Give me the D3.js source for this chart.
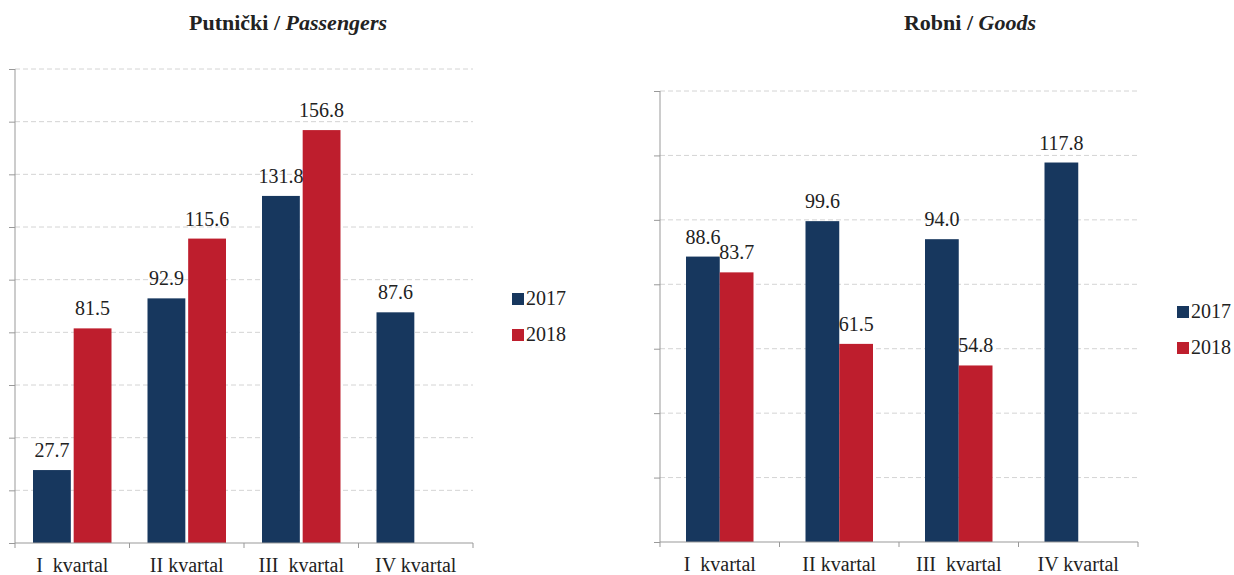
<!DOCTYPE html>
<html>
<head>
<meta charset="utf-8">
<script src="https://cdn.jsdelivr.net/npm/d3@7"></script>
<style>
  body { margin: 0; background: #fff; }
  svg text { font-family: "Liberation Serif", "Times New Roman", serif; fill: #222; }
</style>
</head>
<body>
<svg id="chart" width="1234" height="575"></svg>
<script>
// data
var categories = ["I  kvartal", "II kvartal", "III  kvartal", "IV kvartal"];
var seriesNames = ["2017", "2018"];
var passengers2017 = [27.7, 92.9, 131.8, 87.6];
var passengers2018 = [81.5, 115.6, 156.8, null];
var goods2017 = [88.6, 99.6, 94.0, 117.8];
var goods2018 = [83.7, 61.5, 54.8, null];

var colors = { "2017": "#17375e", "2018": "#be1e2d" };

var svg = d3.select("#chart");

function drawPanel(opt) {
    var g = svg.append("g");

    var x = d3.scaleBand()
        .domain(categories)
        .range([opt.left, opt.right])
        .padding(0);

    var xs = d3.scaleBand()
        .domain(seriesNames)
        .range([opt.groupPad, x.bandwidth() - opt.groupPad])
        .paddingInner(opt.barGap);

    var y = d3.scaleLinear()
        .domain([0, opt.max])
        .range([opt.bottom, opt.top]);

    var ticks = d3.range(0, opt.max + 1, opt.step);

    // grid
    g.selectAll(".grid")
        .data(ticks.slice(1))
        .enter()
        .append("line")
        .attr("x1", opt.left)
        .attr("x2", opt.right)
        .attr("y1", d => y(d))
        .attr("y2", d => y(d))
        .attr("stroke", "#d4d4d4")
        .attr("stroke-dasharray", "5,3");

    // y axis (no labels)
    var axisY = d3.axisLeft(y).tickValues(ticks).tickSize(6).tickFormat("");
    var ay = g.append("g")
        .attr("transform", "translate(" + opt.left + ",0)")
        .call(axisY);
    ay.select(".domain").attr("stroke", "#999").attr("d", "M0," + opt.bottom + "V" + opt.top);
    ay.selectAll(".tick line").attr("stroke", "#999");

    // bars
    var rows = categories.map((c, i) => ({ cat: c, vals: [
        { s: "2017", v: opt.data2017[i] },
        { s: "2018", v: opt.data2018[i] }
    ].filter(d => d.v != null) }));

    var grp = g.selectAll(".cat")
        .data(rows)
        .enter()
        .append("g")
        .attr("transform", d => "translate(" + x(d.cat) + ",0)");

    grp.selectAll("rect")
        .data(d => d.vals)
        .enter()
        .append("rect")
        .attr("x", d => xs(d.s))
        .attr("width", xs.bandwidth())
        .attr("y", d => y(d.v))
        .attr("height", d => opt.bottom - y(d.v))
        .attr("fill", d => colors[d.s]);

    grp.selectAll(".lbl")
        .data(d => d.vals)
        .enter()
        .append("text")
        .attr("x", d => xs(d.s) + xs.bandwidth() / 2)
        .attr("y", d => y(d.v) - 13)
        .attr("text-anchor", "middle")
        .style("font-size", "20px")
        .text(d => d.v.toFixed(1));

    // x axis
    var axisX = d3.axisBottom(x).tickSize(0).tickFormat(d => d);
    var ax = g.append("g")
        .attr("transform", "translate(0," + opt.bottom + ")")
        .call(axisX);
    ax.select(".domain").attr("stroke", "#999").attr("d", "M" + opt.left + ",0H" + opt.right);
    ax.selectAll(".tick text")
        .attr("dy", 0)
        .attr("y", 29)
        .style("font-size", "20px")
        .style("white-space", "pre")
        .attr("xml:space", "preserve");

    g.selectAll(".sep")
        .data(categories.map(c => x(c)).concat([opt.right]))
        .enter()
        .append("line")
        .attr("x1", d => d).attr("x2", d => d)
        .attr("y1", opt.bottom).attr("y2", opt.bottom + 5)
        .attr("stroke", "#999");

    // title
    var t = g.append("text")
        .attr("x", opt.titleX)
        .attr("y", opt.titleY)
        .attr("text-anchor", "middle")
        .style("font-size", "22px")
        .style("font-weight", "bold")
        .attr("xml:space", "preserve");
    t.append("tspan").text(opt.title1);
    t.append("tspan").style("font-style", "italic").text(opt.title2);

    // legend
    var lg = g.selectAll(".leg")
        .data(seriesNames)
        .enter()
        .append("g")
        .attr("transform", (d, i) => "translate(" + opt.legX + "," + (opt.legY + i * opt.legStep) + ")");
    lg.append("rect")
        .attr("x", 0).attr("y", -12)
        .attr("width", 12).attr("height", 12)
        .attr("fill", d => colors[d]);
    lg.append("text")
        .attr("x", 14)
        .attr("y", 0)
        .style("font-size", "20px")
        .text(d => d);
}

drawPanel({
    left: 15, right: 473, top: 69, bottom: 543, max: 180, step: 20,
    groupPad: 18, barGap: 0.07,
    data2017: passengers2017, data2018: passengers2018,
    title1: "Putnički / ", title2: "Passengers", titleX: 288, titleY: 30,
    legX: 512, legY: 305, legStep: 36
});

drawPanel({
    left: 660, right: 1138, top: 91, bottom: 542, max: 140, step: 20,
    groupPad: 26, barGap: 0,
    data2017: goods2017, data2018: goods2018,
    title1: "Robni / ", title2: "Goods", titleX: 970, titleY: 30,
    legX: 1177, legY: 318, legStep: 36
});
</script>
</body>
</html>
